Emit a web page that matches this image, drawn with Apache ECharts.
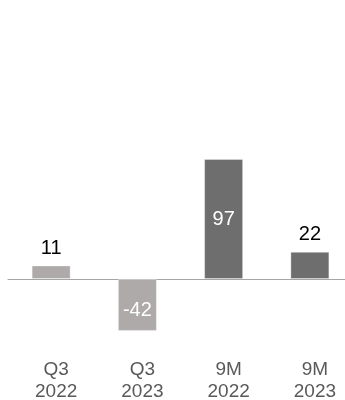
<!DOCTYPE html>
<html>
<head>
<meta charset="utf-8">
<script src="https://cdn.jsdelivr.net/npm/echarts@6/dist/echarts.min.js"></script>
<style>
  html, body { margin: 0; padding: 0; background: #fff; }
  #chart { width: 345px; height: 400px; }
</style>
</head>
<body>
<div id="chart"></div>
<script>
  // periods and values
  const categories = ['Q3\n2022', 'Q3\n2023', '9M\n2022', '9M\n2023']
  const values = [11, -42, 97, 22]
  const barColors = ['#aeaaaa', '#aeaaaa', '#6e6e6e', '#6e6e6e']

  const chart = echarts.init(document.getElementById('chart'))

  const data = values.map(function (v, i) {
    const item = { value: v, itemStyle: { color: barColors[i] } }
    if (v < 0) {
      item.label = { position: 'inside', color: '#fff', offset: [0, 6] }
    } else if (v > 50) {
      item.label = { position: 'inside', color: '#fff' }
    }
    return item
  })

  const option = {
    animation: false,
    grid: { left: 8, width: 345, top: 130.6, height: 222.6, containLabel: false, outerBoundsMode: 'none' },
    xAxis: [{
      type: 'category',
      data: categories,
      axisLine: { onZero: true, lineStyle: { color: '#a6a6a6', width: 1 } },
      axisTick: { show: false },
      axisLabel: { show: false }
    }, {
      type: 'category',
      data: categories,
      position: 'bottom',
      axisLine: { show: false, onZero: false },
      axisTick: { show: false },
      axisLabel: {
        margin: 6,
        color: '#595959',
        fontSize: 19,
        lineHeight: 22,
        fontFamily: 'Liberation Sans, Arial, sans-serif',
        padding: [0, 0, 0, 10]
      }
    }],
    yAxis: {
      type: 'value',
      min: -60,
      max: 120,
      show: false,
      splitLine: { show: false }
    },
    series: [{
      type: 'bar',
      data: data,
      barWidth: 39,
      itemStyle: { borderColor: 'rgba(255,255,255,0.35)', borderWidth: 1 },
      label: {
        show: true,
        position: 'top',
        distance: 7,
        color: '#000',
        fontSize: 20,
        fontFamily: 'Liberation Sans, Arial, sans-serif'
      }
    }]
  }
  chart.setOption(option)
</script>
</body>
</html>
